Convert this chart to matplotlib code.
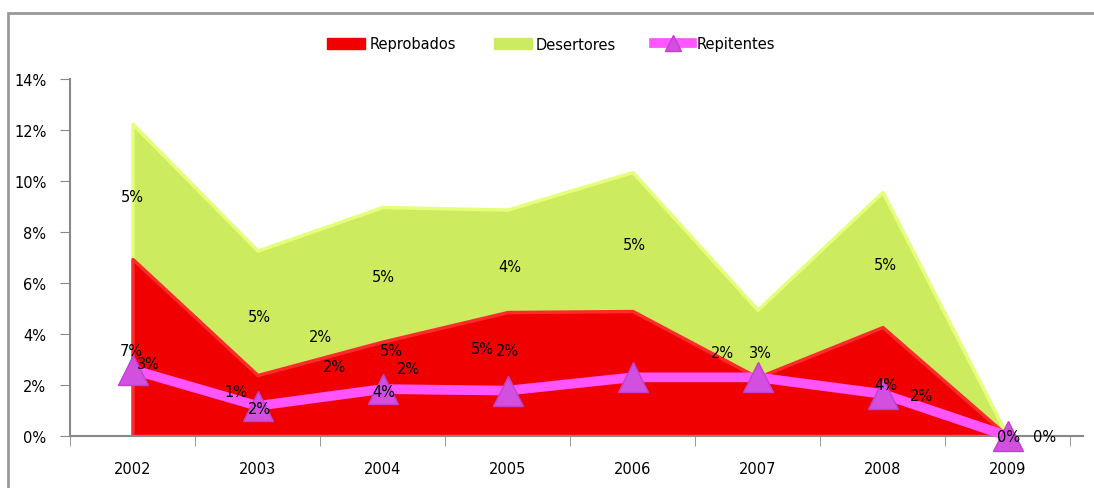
import matplotlib
matplotlib.use("Agg")
import matplotlib.pyplot as plt
from matplotlib.patches import Rectangle
from matplotlib.lines import Line2D
from matplotlib.patches import Patch
import numpy as np

years = ["2002", "2003", "2004", "2005", "2006", "2007", "2008", "2009"]
reprobados = [6.94, 2.39, 3.70, 4.86, 4.90, 2.30, 4.27, 0.0]
desertores = [5.30, 4.88, 5.28, 4.02, 5.45, 2.65, 5.30, 0.0]
repitentes = [2.60, 1.18, 1.84, 1.78, 2.30, 2.30, 1.65, 0.0]
yticks = [0, 2, 4, 6, 8, 10, 12, 14]

# data label texts as shown in the chart (x in category units, y in %)
label_texts = ["5%", "7%", "3%", "1%", "2%", "5%", "2%", "2%", "5%", "5%", "4%", "2%",
               "4%", "5%", "2%", "5%", "2%", "3%", "5%", "4%", "2%", "0%", "0%"]
label_px = [(133, 197), (132, 352), (149, 365), (236, 393), (260, 410), (260, 317),
            (321, 338), (335, 368), (384, 278), (392, 352), (384, 393), (409, 370),
            (510, 267), (483, 350), (508, 351), (635, 245), (723, 353), (761, 353),
            (886, 265), (886, 386), (922, 397), (1009, 438), (1045, 438)]

plt.rcParams['font.family'] = ['DejaVu Sans']

fig = plt.figure(figsize=(10.94, 4.89), dpi=100)
W, H = 1094, 489
ax = fig.add_axes([70 / W, 1 - 437 / H, 1000 / W, (437 - 80) / H])

x = np.arange(len(years))
red = "#F00000"
green = "#CDEB5E"
mag = "#FF55FF"

rep = np.array(reprobados)
top = rep + np.array(desertores)
ax.fill_between(x, 0, top, color=green, edgecolor="#E4FF7A", linewidth=2.5, zorder=1)
ax.fill_between(x, 0, rep, color=red, edgecolor="#FF2A2A", linewidth=2.5, zorder=2)

ax.plot(x, repitentes, color=mag, linewidth=7, solid_capstyle="round",
        solid_joinstyle="round", zorder=3, clip_on=False)
ax.plot(x, repitentes, linestyle="none", marker="^", markersize=22,
        markerfacecolor="#D24FE0", markeredgecolor="#C040D0", zorder=4, clip_on=False)

for t, (px, py) in zip(label_texts, label_px):
    ax.text((px - 133) / 125, (437 - py) / 25.5, t, ha="center", va="center",
            fontsize=10.5, color="black", zorder=6)

ax.set_xlim(-0.5, len(years) - 0.5)
ax.set_ylim(0, 14)
ax.set_yticks(yticks)
ax.set_yticklabels([f"{v}%" for v in yticks])
ax.set_xticks(x)
ax.set_xticklabels(years)
ax.set_xticks(np.arange(-0.5, len(years) + 0.5, 1), minor=True)
ax.tick_params(axis="x", which="major", length=0, pad=18, labelsize=10.5)
ax.tick_params(axis="x", which="minor", length=7, color="#888888", direction="out")
ax.tick_params(axis="y", length=7, color="#888888", direction="out", labelsize=10.5, pad=10)

for s in ["top", "right"]:
    ax.spines[s].set_visible(False)
for s in ["left", "bottom"]:
    ax.spines[s].set_color("#888888")
    ax.spines[s].set_linewidth(1.5)
ax.spines["bottom"].set_bounds(-0.5, len(years) - 0.4)

# chart area border
fig.add_artist(Rectangle((8 / W, -0.1), 1.2, 1 - 14 / H + 0.1, transform=fig.transFigure,
                         fill=False, edgecolor="#999999", linewidth=2))

handles = [Patch(facecolor=red, edgecolor=red),
           Patch(facecolor=green, edgecolor=green),
           Line2D([0], [0], color=mag, linewidth=7, marker="^", markersize=12,
                  markerfacecolor="#D24FE0", markeredgecolor="#C040D0")]
fig.legend(handles, ["Reprobados", "Desertores", "Repitentes"], loc="center",
           bbox_to_anchor=(551 / W, 1 - 45 / H), ncol=3, frameon=False, fontsize=10.5,
           handlelength=2.6, handletextpad=0.3, columnspacing=2.6)

fig.savefig("out.png", dpi=100)
